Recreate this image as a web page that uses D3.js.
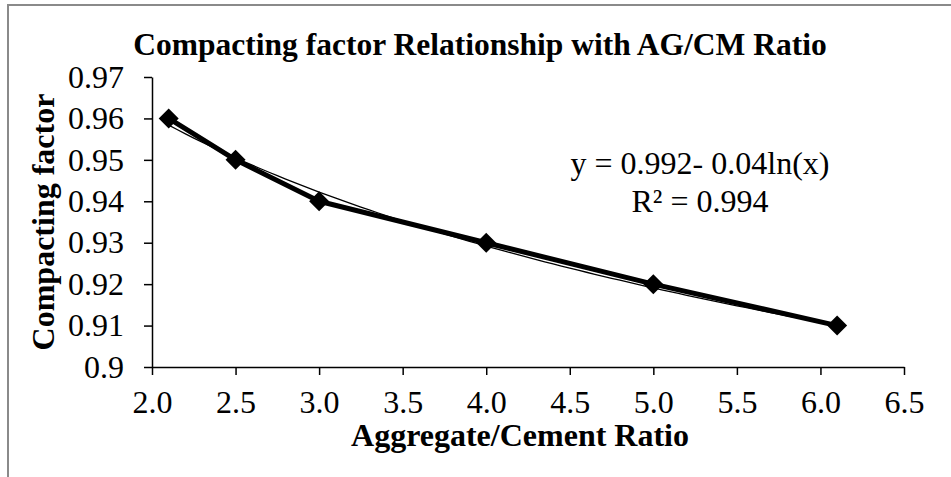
<!DOCTYPE html>
<html>
<head>
<meta charset="utf-8">
<script src="https://cdn.jsdelivr.net/npm/d3@7"></script>
<style>
  body { margin: 0; background: #fff; }
  text { font-family: "Liberation Serif", "Times New Roman", serif; fill: #000; }
</style>
</head>
<body>
<div id="chart"></div>
<script>
const agRatio = [2.1, 2.5, 3.0, 4.0, 5.0, 6.1];
const compactingFactor = [0.96, 0.95, 0.94, 0.93, 0.92, 0.91];
const xTicks = [2.0, 2.5, 3.0, 3.5, 4.0, 4.5, 5.0, 5.5, 6.0, 6.5];
const yTicks = [0.9, 0.91, 0.92, 0.93, 0.94, 0.95, 0.96, 0.97];
// log trendline coefficients: y = a + b ln(x)
const trendA = 0.992;
const trendB = -0.0453;
const eqLines = ["y = 0.992- 0.04ln(x)", "R² = 0.994"];

const W = 951, H = 477;
const margin = { top: 77, right: 47, bottom: 110, left: 152 };
const width = W - margin.left - margin.right;
const height = H - margin.top - margin.bottom;

const data = agRatio.map((x, i) => ({ x, y: compactingFactor[i] }));

const svg = d3.select("#chart").append("svg")
  .attr("width", W)
  .attr("height", H);

// outer chart frame (runs off the window)
svg.append("rect")
  .attr("x", 8).attr("y", 5)
  .attr("width", W + 20).attr("height", H + 20)
  .attr("fill", "none")
  .attr("stroke", "#8a8a8a")
  .attr("stroke-width", 2);

const g = svg.append("g").attr("transform", `translate(${margin.left},${margin.top})`);

const x = d3.scaleLinear().domain([2.0, 6.5]).range([0, width]);
const y = d3.scaleLinear().domain([0.9, 0.97]).range([height, 0]);

const xAxis = g.append("g")
  .attr("transform", `translate(0,${height})`)
  .call(d3.axisBottom(x).tickValues(xTicks).tickFormat(d3.format(".1f")).tickSize(8).tickPadding(15).tickSizeOuter(0));

const yAxis = g.append("g")
  .call(d3.axisLeft(y).tickValues(yTicks).tickFormat(d => String(+d.toFixed(2))).tickSize(8).tickPadding(20).tickSizeOuter(0));

[xAxis, yAxis].forEach(a => {
  a.selectAll("path, line").attr("stroke", "#000").attr("stroke-width", 1.5);
  a.selectAll("text")
    .style("font-family", '"Liberation Serif", "Times New Roman", serif')
    .style("font-size", "32px")
    .attr("fill", "#000");
});

// data line
const line = d3.line().x(d => x(d.x)).y(d => y(d.y));
g.append("path")
  .datum(data)
  .attr("d", line)
  .attr("fill", "none")
  .attr("stroke", "#000")
  .attr("stroke-width", 5)
  .attr("stroke-linejoin", "round");

// logarithmic trendline
const xs = d3.range(agRatio[0], agRatio[agRatio.length - 1] + 0.001, 0.05);
g.append("path")
  .datum(xs)
  .attr("d", d3.line().x(d => x(d)).y(d => y(trendA + trendB * Math.log(d))))
  .attr("fill", "none")
  .attr("stroke", "#000")
  .attr("stroke-width", 1.3);

// diamond markers
g.selectAll(".marker")
  .data(data)
  .join("path")
  .attr("class", "marker")
  .attr("transform", d => `translate(${x(d.x)},${y(d.y)})`)
  .attr("d", "M0,-10L10,0L0,10L-10,0Z")
  .attr("fill", "#000");

// trendline equation
g.selectAll(".eq")
  .data(eqLines)
  .join("text")
  .attr("class", "eq")
  .attr("text-anchor", "middle")
  .style("font-size", "32px")
  .attr("x", 700 - margin.left)
  .attr("y", (d, i) => 174 - margin.top + i * 38)
  .text(d => d);

// titles
svg.append("text")
  .attr("x", 480)
  .attr("y", 55)
  .attr("text-anchor", "middle")
  .style("font-size", "31.5px")
  .style("font-weight", "bold")
  .text("Compacting factor Relationship with AG/CM Ratio");

svg.append("text")
  .attr("x", 520)
  .attr("y", 446)
  .attr("text-anchor", "middle")
  .style("font-size", "32px")
  .style("font-weight", "bold")
  .text("Aggregate/Cement Ratio");

svg.append("text")
  .attr("transform", `translate(54,${margin.top + height / 2}) rotate(-90)`)
  .attr("text-anchor", "middle")
  .style("font-size", "32px")
  .style("font-weight", "bold")
  .text("Compacting factor");
</script>
</body>
</html>
